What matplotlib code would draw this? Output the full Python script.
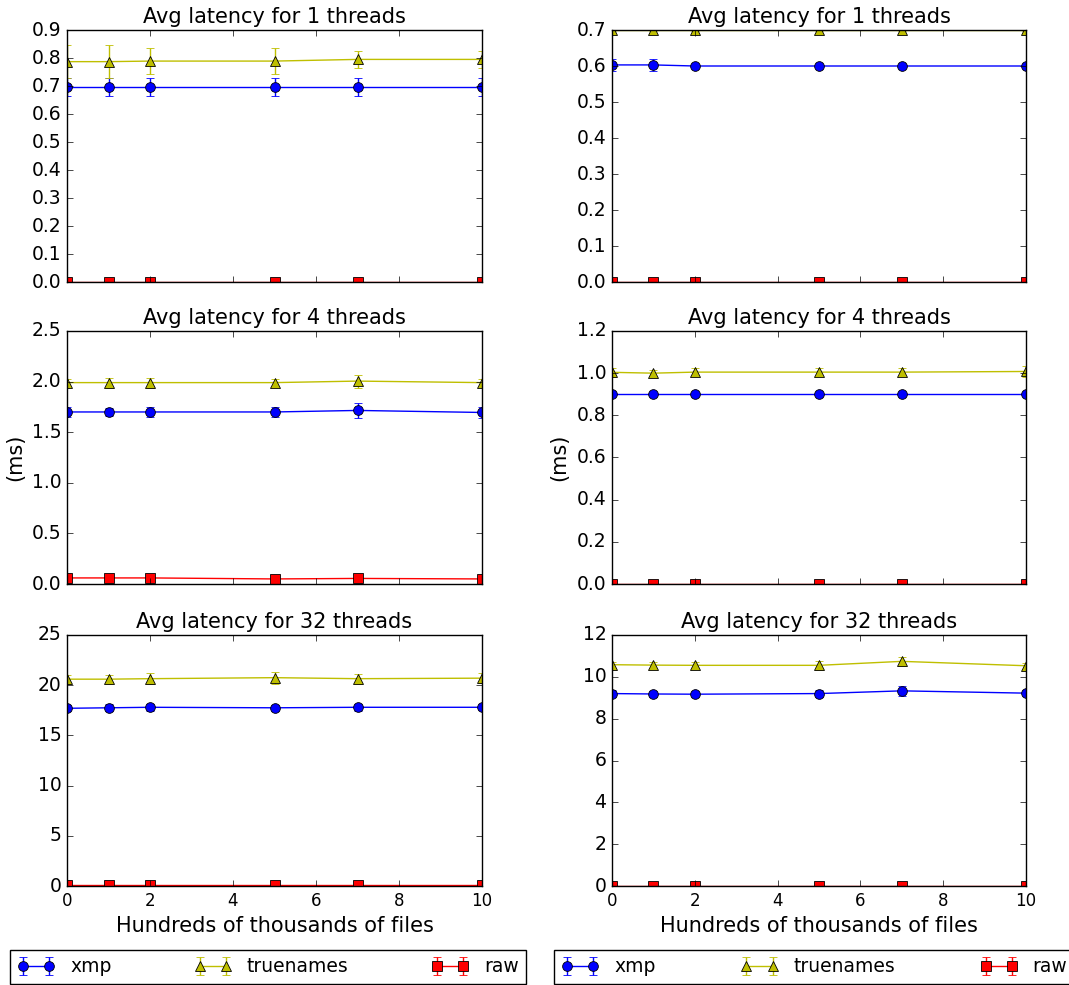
import matplotlib
matplotlib.use("Agg")
import matplotlib.pyplot as plt

plt.style.use("classic")

files = [0, 1, 2, 5, 7, 10]
series_names = ["xmp", "truenames", "raw"]

# left column
l1_xmp = [0.695, 0.695, 0.695, 0.695, 0.695, 0.695]
l1_xmp_err = [0.032, 0.032, 0.032, 0.032, 0.032, 0.032]
l1_true = [0.787, 0.787, 0.789, 0.789, 0.795, 0.795]
l1_true_err = [0.059, 0.059, 0.046, 0.046, 0.031, 0.031]
l1_raw = [0.001, 0.001, 0.001, 0.001, 0.001, 0.001]
l1_raw_err = [0.001, 0.001, 0.001, 0.001, 0.001, 0.001]

l4_xmp = [1.70, 1.70, 1.70, 1.70, 1.715, 1.695]
l4_xmp_err = [0.05, 0.04, 0.045, 0.045, 0.075, 0.05]
l4_true = [1.99, 1.99, 1.99, 1.99, 2.005, 1.99]
l4_true_err = [0.04, 0.05, 0.05, 0.04, 0.065, 0.04]
l4_raw = [0.06, 0.06, 0.06, 0.05, 0.055, 0.05]
l4_raw_err = [0.03, 0.03, 0.03, 0.03, 0.03, 0.03]

l32_xmp = [17.7, 17.75, 17.8, 17.75, 17.8, 17.8]
l32_xmp_err = [0.3, 0.35, 0.35, 0.3, 0.35, 0.3]
l32_true = [20.6, 20.6, 20.65, 20.75, 20.65, 20.7]
l32_true_err = [0.45, 0.45, 0.55, 0.6, 0.5, 0.5]
l32_raw = [0.05, 0.05, 0.05, 0.05, 0.05, 0.05]
l32_raw_err = [0.05, 0.05, 0.05, 0.05, 0.05, 0.05]

# right column
r1_xmp = [0.603, 0.603, 0.600, 0.600, 0.600, 0.600]
r1_xmp_err = [0.016, 0.016, 0.002, 0.002, 0.002, 0.002]
r1_true = [0.701, 0.701, 0.701, 0.701, 0.701, 0.701]
r1_true_err = [0.003, 0.003, 0.003, 0.003, 0.003, 0.003]
r1_raw = [0.001, 0.001, 0.001, 0.001, 0.001, 0.001]
r1_raw_err = [0.001, 0.001, 0.001, 0.001, 0.001, 0.001]

r4_xmp = [0.90, 0.90, 0.90, 0.90, 0.90, 0.90]
r4_xmp_err = [0.004, 0.004, 0.004, 0.004, 0.004, 0.004]
r4_true = [1.004, 1.0, 1.005, 1.005, 1.005, 1.008]
r4_true_err = [0.02, 0.015, 0.02, 0.02, 0.02, 0.025]
r4_raw = [0.002, 0.002, 0.002, 0.002, 0.002, 0.002]
r4_raw_err = [0.002, 0.002, 0.002, 0.002, 0.002, 0.002]

r32_xmp = [9.2, 9.18, 9.17, 9.2, 9.33, 9.22]
r32_xmp_err = [0.15, 0.15, 0.15, 0.15, 0.25, 0.15]
r32_true = [10.58, 10.56, 10.55, 10.55, 10.74, 10.53]
r32_true_err = [0.15, 0.15, 0.15, 0.2, 0.2, 0.15]
r32_raw = [0.02, 0.02, 0.02, 0.02, 0.02, 0.02]
r32_raw_err = [0.02, 0.02, 0.02, 0.02, 0.02, 0.02]

titles = ["Avg latency for 1 threads", "Avg latency for 4 threads",
          "Avg latency for 32 threads"]
left_ylim = [0.9, 2.5, 25]
right_ylim = [0.7, 1.2, 12]

left = [(l1_xmp, l1_xmp_err, l1_true, l1_true_err, l1_raw, l1_raw_err),
        (l4_xmp, l4_xmp_err, l4_true, l4_true_err, l4_raw, l4_raw_err),
        (l32_xmp, l32_xmp_err, l32_true, l32_true_err, l32_raw, l32_raw_err)]
right = [(r1_xmp, r1_xmp_err, r1_true, r1_true_err, r1_raw, r1_raw_err),
         (r4_xmp, r4_xmp_err, r4_true, r4_true_err, r4_raw, r4_raw_err),
         (r32_xmp, r32_xmp_err, r32_true, r32_true_err, r32_raw, r32_raw_err)]

styles = [("b", "o"), ("y", "^"), ("r", "s")]

W, H = 1069, 985
fig = plt.figure(figsize=(W / 100, H / 100), dpi=100)
fig.patch.set_facecolor("white")

col_x = [(67, 482), (612, 1026)]
row_y = [(30, 282), (331, 584), (635, 886)]


def draw(ax, data, title, ymax, row):
    handles = []
    for i, (c, m) in enumerate(styles):
        y, e = data[2 * i], data[2 * i + 1]
        h = ax.errorbar(files, y, yerr=e, color=c, ecolor=c, marker=m,
                        markersize=7, markeredgecolor="k", markeredgewidth=0.6,
                        linewidth=1, capsize=3, label=series_names[i])
        handles.append(h)
    ax.set_xlim(0, 10)
    ax.set_ylim(0, ymax)
    ax.set_title(title, fontsize=15)
    ax.tick_params(axis="y", labelsize=13.5)
    ax.tick_params(axis="x", labelsize=12)
    if row < 2:
        ax.set_xticklabels([])
    else:
        ax.set_xlabel("Hundreds of thousands of files", fontsize=15)
    if row == 1:
        ax.set_ylabel("(ms)", fontsize=15)
    return handles


for col, (x0, x1) in enumerate(col_x):
    column = left if col == 0 else right
    ylims = left_ylim if col == 0 else right_ylim
    for row, (y0, y1) in enumerate(row_y):
        ax = fig.add_axes([x0 / W, 1 - y1 / H, (x1 - x0) / W, (y1 - y0) / H])
        hs = draw(ax, column[row], titles[row], ylims[row], row)
    lx0 = 10 if col == 0 else 554
    lx1 = 526 if col == 0 else 1075
    fig.legend(hs, series_names, loc="upper left", ncol=3, mode="expand",
               bbox_to_anchor=(lx0 / W, 1 - 950 / H, (lx1 - lx0) / W, 0.0),
               bbox_transform=fig.transFigure, borderaxespad=0, numpoints=2,
               fontsize=13.5, frameon=True)

fig.savefig("out.png", dpi=100, facecolor="white")
